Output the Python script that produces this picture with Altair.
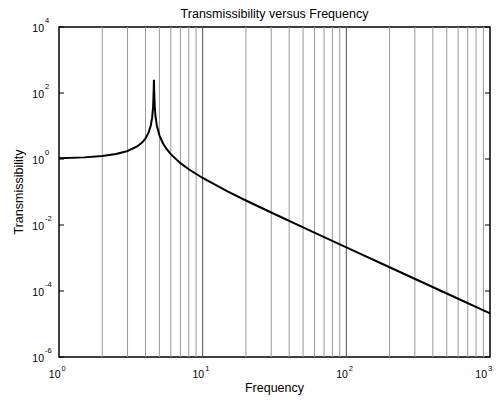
import altair as alt
import pandas as pd

# Curve (frequency in Hz, transmissibility)
freq = [1, 1.5, 2, 2.5, 3, 3.5, 3.8, 4.0, 4.2, 4.35, 4.45, 4.52, 4.56, 4.58,
        4.60, 4.64, 4.7, 4.8, 5.0, 5.3, 5.6, 6, 7, 8, 10, 15, 20, 30, 50,
        100, 200, 500, 1000]
trans = [1.05, 1.12, 1.24, 1.42, 1.75, 2.4, 3.2, 4.2, 6.3, 10.2, 17.9, 38, 115, 250,
         114, 38, 19, 10.2, 5.2, 2.95, 2.02, 1.40, 0.75, 0.49, 0.266, 0.103, 0.0553,
         0.0239, 0.00846, 0.0021, 5.25e-4, 8.4e-5, 2.1e-5]

# Grid / tick positions
grid_minor = [2, 3, 4, 5, 6, 7, 8, 9, 20, 30, 40, 50, 60, 70, 80, 90,
              200, 300, 400, 500, 600, 700, 800, 900]
grid_major = [10, 100]
x_ticks = [1, 10, 100, 1000]
x_exps = ["0", "1", "2", "3"]
y_ticks = [1e4, 1e2, 1, 1e-2, 1e-4, 1e-6]
y_exps = ["4", "2", "0", "-2", "-4", "-6"]

FONT = "Liberation Sans"
W, H = 431, 330

xs = alt.Scale(type="log", domain=[1, 1000], nice=False)
ys = alt.Scale(type="log", domain=[1e-6, 1e4], nice=False)
no_axis = None

curve_df = pd.DataFrame({"f": freq, "t": trans})
minor_df = pd.DataFrame({"f": grid_minor})
major_df = pd.DataFrame({"f": grid_major})
xt_df = pd.DataFrame({"f": x_ticks, "e": x_exps})
yt_df = pd.DataFrame({"v": y_ticks, "e": y_exps})

minor = alt.Chart(minor_df).mark_rule(color="#9a9a9a", strokeWidth=1).encode(
    x=alt.X("f:Q", scale=xs, axis=no_axis)
)
major = alt.Chart(major_df).mark_rule(color="#505050", strokeWidth=1).encode(
    x=alt.X("f:Q", scale=xs, axis=no_axis)
)

line = alt.Chart(curve_df).mark_line(color="black", strokeWidth=2).encode(
    x=alt.X("f:Q", scale=xs, axis=no_axis),
    y=alt.Y("t:Q", scale=ys, axis=no_axis),
)

ltick = alt.Chart(yt_df).mark_rule(color="black", strokeWidth=1).encode(
    x=alt.value(0), x2=alt.value(5), y=alt.Y("v:Q", scale=ys, axis=no_axis)
)
rtick = alt.Chart(yt_df).mark_rule(color="black", strokeWidth=1).encode(
    x=alt.value(W - 5), x2=alt.value(W), y=alt.Y("v:Q", scale=ys, axis=no_axis)
)

ylab_base = alt.Chart(yt_df).mark_text(
    text="10", font=FONT, fontSize=10.5, align="right", baseline="alphabetic", dy=4.5
).encode(x=alt.value(-15), y=alt.Y("v:Q", scale=ys, axis=no_axis))
ylab_exp = alt.Chart(yt_df).mark_text(
    font=FONT, fontSize=7.5, align="left", baseline="alphabetic", dy=-4
).encode(x=alt.value(-14), y=alt.Y("v:Q", scale=ys, axis=no_axis), text="e:N")

xt_main = alt.Chart(xt_df).transform_filter("datum.f < 1000")
xt_last = alt.Chart(xt_df).transform_filter("datum.f >= 1000")

xlab_base = xt_main.mark_text(
    text="10", font=FONT, fontSize=10.5, align="right", baseline="alphabetic", dx=1.5
).encode(x=alt.X("f:Q", scale=xs, axis=no_axis), y=alt.value(351))
xlab_exp = xt_main.mark_text(
    font=FONT, fontSize=7.5, align="left", baseline="alphabetic", dx=2.5
).encode(x=alt.X("f:Q", scale=xs, axis=no_axis), y=alt.value(344), text="e:N")
xlab_base_l = xt_last.mark_text(
    text="10", font=FONT, fontSize=10.5, align="right", baseline="alphabetic", dx=-3
).encode(x=alt.X("f:Q", scale=xs, axis=no_axis), y=alt.value(351))
xlab_exp_l = xt_last.mark_text(
    font=FONT, fontSize=7.5, align="left", baseline="alphabetic", dx=-2
).encode(x=alt.X("f:Q", scale=xs, axis=no_axis), y=alt.value(344), text="e:N")

title = alt.Chart(pd.DataFrame({"s": ["Transmissibility versus Frequency"]})).mark_text(
    font=FONT, fontSize=12.5, align="center", baseline="alphabetic"
).encode(x=alt.value(W / 2), y=alt.value(-9), text="s:N")
xtitle = alt.Chart(pd.DataFrame({"s": ["Frequency"]})).mark_text(
    font=FONT, fontSize=12.5, align="center", baseline="alphabetic"
).encode(x=alt.value(W / 2), y=alt.value(365), text="s:N")
ytitle = alt.Chart(pd.DataFrame({"s": ["Transmissibility"]})).mark_text(
    font=FONT, fontSize=12.5, align="center", baseline="alphabetic", angle=270
).encode(x=alt.value(-36.5), y=alt.value(H / 2), text="s:N")

chart = alt.layer(
    minor, major, line, ltick, rtick,
    ylab_base, ylab_exp, xlab_base, xlab_exp, xlab_base_l, xlab_exp_l,
    title, xtitle, ytitle
).properties(
    width=W, height=H,
    autosize=alt.AutoSizeParams(type="none"),
    padding={"left": 51, "top": 19, "right": 3, "bottom": 38},
    background="white",
).configure_view(stroke="black", strokeWidth=1.5)

chart.save("out.html", embed_options={"renderer": "svg", "actions": False})
